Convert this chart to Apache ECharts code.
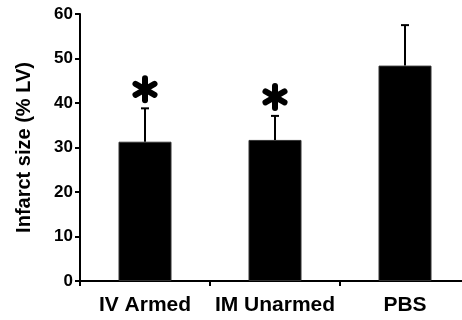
<!DOCTYPE html>
<html>
<head>
<meta charset="utf-8">
<script src="https://cdn.jsdelivr.net/npm/echarts@6/dist/echarts.min.js"></script>
<style>html,body{margin:0;padding:0;background:#fff;}#c{width:462px;height:320px;}</style>
</head>
<body>
<div id="c"></div>
<script>
var categories = ['IV Armed', 'IM Unarmed', 'PBS'];
var means = [31.3, 31.7, 48.4];
var errors = [7.5, 5.4, 9.1];
var significant = [true, true, false];
var yTicks = [0, 10, 20, 30, 40, 50, 60];

var chart = echarts.init(document.getElementById('c'));
var font = 'Liberation Sans, Arial, sans-serif';

chart.setOption({
  animation: false,
  grid: { left: 80, right: -8, top: 14, bottom: 39, outerBoundsMode: 'none', containLabel: false },
  xAxis: {
    type: 'category',
    data: categories,
    axisLine: { lineStyle: { color: '#000', width: 2 } },
    axisTick: { show: true, length: 5, lineStyle: { color: '#000', width: 2 } },
    axisLabel: { interval: 0, color: '#000', fontWeight: 'bold', fontSize: 21, fontFamily: font, margin: 14 }
  },
  yAxis: {
    type: 'value',
    min: yTicks[0],
    max: yTicks[yTicks.length - 1],
    interval: 10,
    name: 'Infarct size (% LV)',
    nameLocation: 'middle',
    nameGap: 46,
    nameTextStyle: { color: '#000', fontWeight: 'bold', fontSize: 20, fontFamily: font },
    splitLine: { show: false },
    axisLine: { show: true, lineStyle: { color: '#000', width: 2 } },
    axisTick: { show: true, length: 5, lineStyle: { color: '#000', width: 2 } },
    axisLabel: { color: '#000', fontWeight: 'bold', fontSize: 17, fontFamily: font, margin: 7 }
  },
  series: [
    {
      type: 'bar',
      data: means,
      barWidth: 53,
      itemStyle: { color: '#000', borderColor: '#333', borderWidth: 1 }
    },
    {
      type: 'custom',
      data: means.map(function (m, i) { return [i, m, m + errors[i], significant[i] ? 1 : 0]; }),
      renderItem: function (params, api) {
        var i = api.value(0);
        var base = api.coord([i, api.value(1)]);
        var top = api.coord([i, api.value(2)]);
        var x = base[0];
        var children = [
          { type: 'line', shape: { x1: x, y1: base[1], x2: x, y2: top[1] }, style: { stroke: '#000', lineWidth: 2 } },
          { type: 'line', shape: { x1: x - 4, y1: top[1], x2: x + 4, y2: top[1] }, style: { stroke: '#000', lineWidth: 2 } }
        ];
        if (api.value(3)) {
          var cy = top[1] - 19;
          var r = 11;
          [90, 30, 150].forEach(function (deg) {
            var a = deg * Math.PI / 180;
            children.push({
              type: 'line',
              shape: { x1: x - r * Math.cos(a), y1: cy - r * Math.sin(a), x2: x + r * Math.cos(a), y2: cy + r * Math.sin(a) },
              style: { stroke: '#000', lineWidth: 6, lineCap: 'round' }
            });
          });
        }
        return { type: 'group', children: children };
      },
      z: 5
    }
  ]
});
</script>
</body>
</html>
